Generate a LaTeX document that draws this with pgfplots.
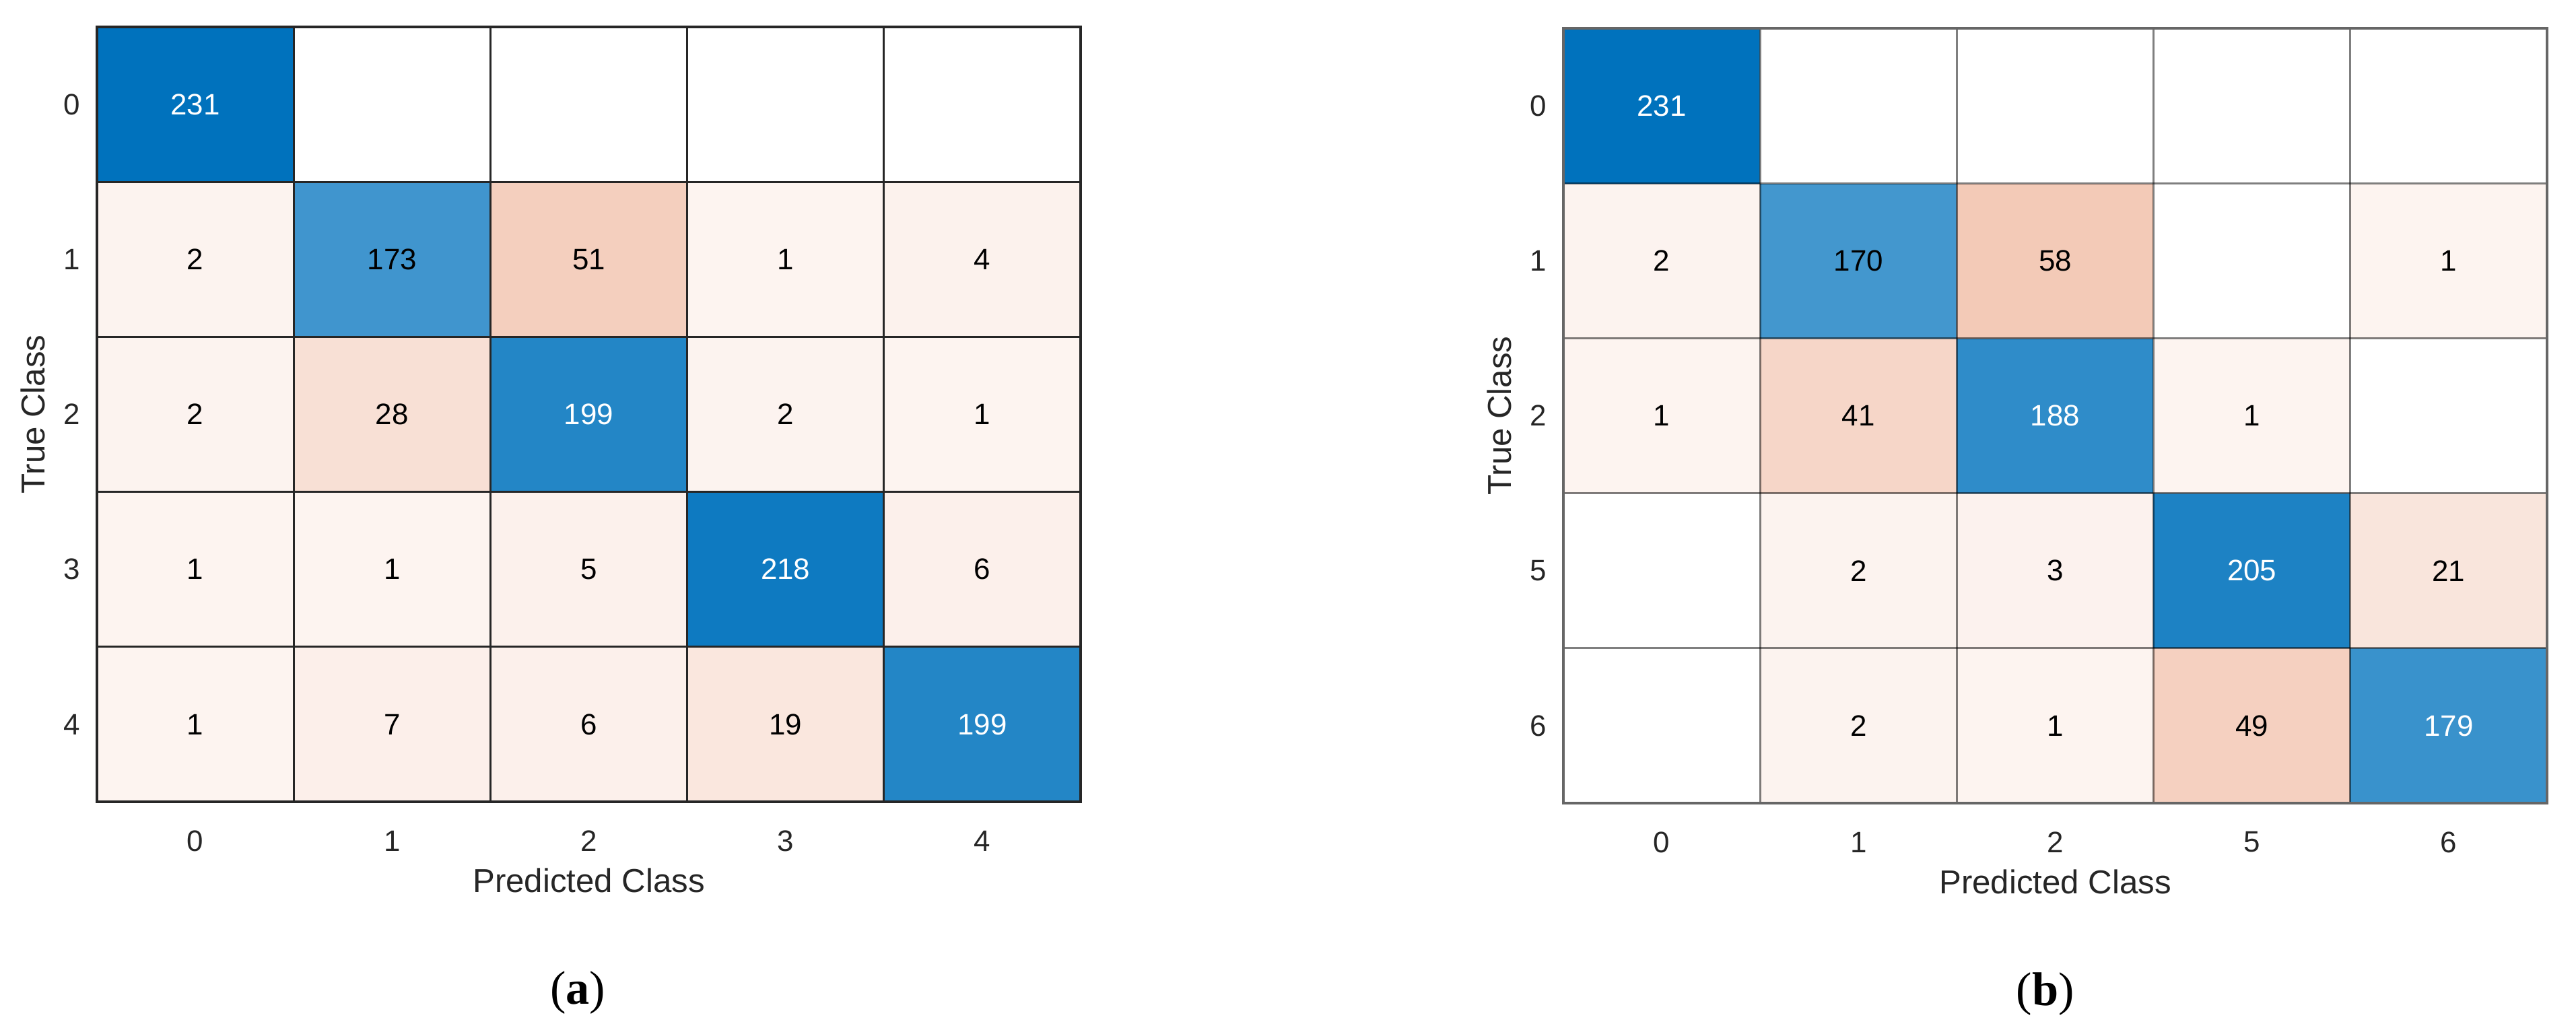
\documentclass[border=0pt]{standalone}
\usepackage{pgfplots}
\pgfplotsset{compat=1.18}
\usepackage{pgfplotstable}
\usepackage{fontspec}
\setmainfont{Liberation Sans}
\newfontfamily\capfont{Liberation Serif}

% x = predicted column, y = 4 - true row, c = cell colour, t = count, tw = percentage of white in the text colour
\pgfplotstableread{
x y c t tw
0 0 rgb255=253,244,240 1 0
1 0 rgb255=252,239,234 7 0
2 0 rgb255=252,240,235 6 0
3 0 rgb255=250,231,222 19 0
4 0 rgb255=35,134,198 199 100
0 1 rgb255=253,244,240 1 0
1 1 rgb255=253,244,240 1 0
2 1 rgb255=252,241,236 5 0
3 1 rgb255=14,122,193 218 100
4 1 rgb255=252,240,235 6 0
0 2 rgb255=252,243,239 2 0
1 2 rgb255=248,224,213 28 0
2 2 rgb255=35,134,198 199 100
3 2 rgb255=252,243,239 2 0
4 2 rgb255=253,244,240 1 0
0 3 rgb255=252,243,239 2 0
1 3 rgb255=64,149,206 173 0
2 3 rgb255=244,207,190 51 0
3 3 rgb255=253,244,240 1 0
4 3 rgb255=252,242,237 4 0
0 4 rgb255=0,114,189 231 100
1 4 rgb255=255,255,255 0 100
2 4 rgb255=255,255,255 0 100
3 4 rgb255=255,255,255 0 100
4 4 rgb255=255,255,255 0 100
}\cellsA

\pgfplotstableread{
x y c t tw
0 0 rgb255=255,255,255 0 100
1 0 rgb255=252,243,239 2 0
2 0 rgb255=253,244,240 1 0
3 0 rgb255=245,208,192 49 0
4 0 rgb255=57,146,204 179 100
0 1 rgb255=255,255,255 0 100
1 1 rgb255=252,243,239 2 0
2 1 rgb255=252,242,238 3 0
3 1 rgb255=29,130,196 205 100
4 1 rgb255=249,229,220 21 0
0 2 rgb255=253,244,240 1 0
1 2 rgb255=246,214,200 41 0
2 2 rgb255=47,140,201 188 100
3 2 rgb255=253,244,240 1 0
4 2 rgb255=255,255,255 0 100
0 3 rgb255=252,243,239 2 0
1 3 rgb255=67,151,206 170 0
2 3 rgb255=243,202,183 58 0
3 3 rgb255=255,255,255 0 100
4 3 rgb255=253,244,240 1 0
0 4 rgb255=0,114,189 231 100
1 4 rgb255=255,255,255 0 100
2 4 rgb255=255,255,255 0 100
3 4 rgb255=255,255,255 0 100
4 4 rgb255=255,255,255 0 100
}\cellsB

\pgfplotsset{
  cm/.style={
    scale only axis, width=146.1mm, height=115.1mm,
    anchor=south west, clip=false,
    xmin=-0.5, xmax=4.5, ymin=-0.5, ymax=4.5,
    xtick={0,1,2,3,4}, ytick={0,1,2,3,4},
    minor xtick={0.5,1.5,2.5,3.5}, minor ytick={0.5,1.5,2.5,3.5},
    xminorgrids=true, yminorgrids=true,
    major tick length=0pt, minor tick length=0pt,
    axis on top,
    tick label style={font=\fontsize{12.5}{14}\selectfont, text=black!85},
    xticklabel style={anchor=center, yshift=-5.8mm},
    yticklabel style={anchor=center, xshift=-3.7mm},
    xlabel={Predicted Class}, ylabel={True Class},
    xlabel style={at={(axis description cs:0.5,-0.102)}, anchor=center, font=\fontsize{14}{16}\selectfont, text=black!85},
    ylabel style={at={(axis description cs:-0.065,0.5)}, anchor=center, font=\fontsize{14}{16}\selectfont, text=black!85},
  },
  confcells/.style={matrix plot*, mesh/cols=5, mesh/color input=explicit, point meta=explicit symbolic,
    visualization depends on={\thisrow{t} \as \cellval},
    visualization depends on={\thisrow{tw} \as \cellwhite},
    nodes near coords={\pgfmathprintnumber[fixed, precision=0, assume math mode=true]{\cellval}},
    every node near coord/.append style={font=\fontsize{12.5}{14}\selectfont, text=white!\cellwhite!black, anchor=center}},
}

\begin{document}
\begin{tikzpicture}
\useasboundingbox (0,0) rectangle (382.6mm,153mm);

\begin{axis}[cm, at={(14.4mm,33.9mm)},
  xticklabels={0,1,2,3,4}, yticklabels={4,3,2,1,0},
  minor grid style={black!85, line width=0.9pt},
  axis line style={black!85, line width=0.9pt}]
\addplot[confcells] table[x=x, y=y, meta=c] {\cellsA};
\node[font=\capfont\fontsize{20}{22}\selectfont] at (axis description cs:0.489,-0.246) {(\textbf{a})};
\end{axis}

\begin{axis}[cm, at={(232.2mm,33.7mm)},
  xticklabels={0,1,2,5,6}, yticklabels={6,5,2,1,0},
  minor grid style={black, opacity=0.5, line width=0.9pt},
  axis line style={black!60, line width=0.9pt}]
\addplot[confcells] table[x=x, y=y, meta=c] {\cellsB};
\node[font=\capfont\fontsize{20}{22}\selectfont] at (axis description cs:0.49,-0.246) {(\textbf{b})};
\end{axis}
\end{tikzpicture}
\end{document}
